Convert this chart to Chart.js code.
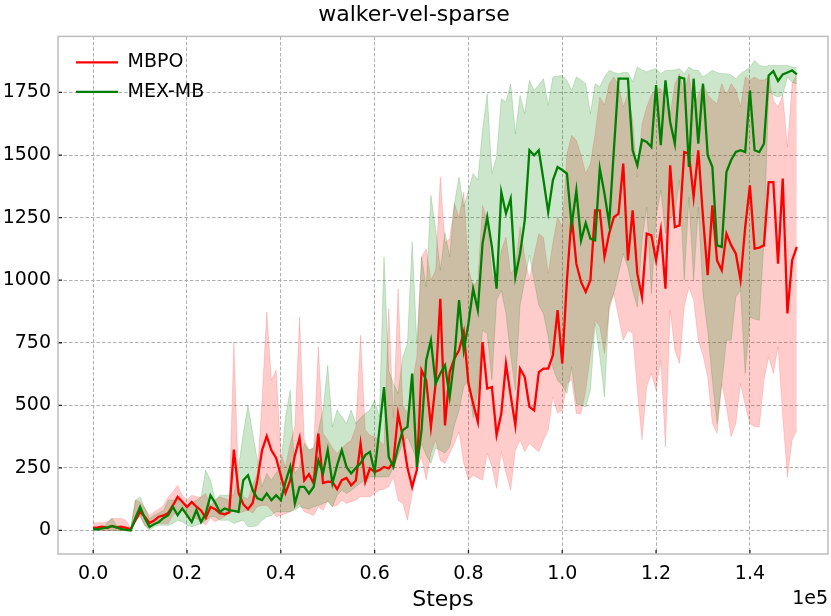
<!DOCTYPE html>
<html>
<head>
<meta charset="utf-8">
<script src="https://cdn.jsdelivr.net/npm/chart.js@4.4.1/dist/chart.umd.min.js"></script>
<style>
  html, body { margin: 0; padding: 0; background: #fff; }
  #wrap { width: 831px; height: 616px; }
</style>
</head>
<body>
<div id="wrap"><canvas id="myChart" width="831" height="616"></canvas></div>
<script>
// x grid: one point every 1000 env steps, 0 .. 150000
const steps = Array.from({length: 151}, (_, i) => i * 1000);

const xTicks = [0, 20000, 40000, 60000, 80000, 100000, 120000, 140000];
const yTicks = [0, 250, 500, 750, 1000, 1250, 1500, 1750];

// MBPO (red)
const mbpoMean = [10,12,15,10,18,12,15,10,5,40,75,55,30,40,55,60,70,100,134,115,
  94,114,95,80,50,94,85,69,65,72,323,150,105,85,110,200,320,377,320,290,
  220,150,200,300,370,200,225,188,387,190,195,194,165,201,210,180,200,347,194,248,
  234,241,254,248,274,467,374,250,174,241,640,600,414,587,926,420,633,687,720,793,
  587,507,434,753,567,573,381,467,667,540,420,647,613,494,480,633,647,647,700,880,
  667,1000,1259,1066,993,953,1000,1279,1279,1093,1186,1252,1266,1466,1079,1279,1026,933,1186,1179,
  1079,1199,966,1459,1212,1219,1512,1506,1332,1519,1252,1020,1299,1079,1040,1186,1140,1106,1000,1212,
  1379,1126,1130,1139,1392,1392,1066,1406,867,1079,1133];
const mbpoHi = [31,31,31,35,48,48,48,40,10,121,114,90,61,74,85,100,134,154,181,140,
  121,141,135,134,148,100,121,135,128,121,754,175,135,125,180,228,521,873,600,641,
  308,255,348,414,853,361,321,330,734,388,361,330,308,330,347,360,414,780,401,380,
  374,360,340,887,450,966,500,467,587,693,1093,1126,1000,1040,1412,1150,1166,1306,1250,1352,
  1050,973,1000,1299,1239,1026,980,1119,1173,1026,1053,1213,1093,1000,1100,1186,1170,1026,1150,1253,
  1213,1505,1579,1559,1500,1426,1465,1585,1732,1700,1785,1812,1780,1692,1745,1639,1412,1625,1692,1740,
  1765,1765,1720,1665,1785,1825,1745,1825,1692,1740,1785,1740,1720,1705,1785,1740,1785,1760,1692,1812,
  1800,1812,1800,1800,1812,1718,1692,1740,1532,1785,1825];
const mbpoLo = [0,0,0,0,0,0,0,0,0,40,55,20,8,28,28,28,28,61,75,81,
  55,50,48,35,21,50,35,45,55,68,81,70,75,81,70,95,100,101,81,55,
  60,68,75,90,108,75,68,60,95,81,121,95,100,121,108,115,121,135,135,135,
  148,161,165,175,214,121,108,41,148,241,294,201,308,361,281,268,308,348,394,268,
  201,221,210,201,308,255,168,315,230,161,321,361,315,348,330,315,361,400,534,468,
  480,587,601,467,467,560,700,840,813,707,880,946,853,760,800,787,560,361,574,627,
  560,680,334,880,720,667,893,973,920,760,700,614,427,387,587,494,374,427,587,500,
  427,414,414,600,694,627,734,454,214,361,401];

// MEX-MB (green)
const mexMean = [5,5,8,12,17,12,5,2,0,50,94,50,14,25,34,50,61,94,61,88,
  61,34,81,34,68,140,110,74,88,81,78,74,201,221,161,128,121,148,121,141,
  121,194,254,108,174,174,148,174,281,228,321,188,260,321,254,228,250,268,301,314,
  234,400,573,294,254,334,401,414,627,254,401,680,760,587,627,660,534,687,920,720,
  827,966,880,1146,1252,1133,966,1352,1266,1326,1013,1106,1239,1519,1499,1519,1400,1272,1399,1452,
  1440,1426,1219,1359,1159,1229,1166,1159,1446,1346,1226,1519,1805,1805,1805,1519,1459,1561,1552,1532,
  1779,1539,1798,1632,1545,1811,1805,1452,1805,1545,1785,1499,1452,1139,1133,1432,1480,1512,1519,1512,
  1758,1519,1512,1545,1818,1835,1796,1822,1830,1838,1822];
const mexHi = [8,8,8,30,48,20,15,15,8,121,134,90,48,61,70,81,121,121,121,110,
  94,110,121,134,241,201,121,141,141,141,141,255,388,501,388,281,175,228,201,230,
  255,454,561,228,255,348,321,330,400,481,660,414,481,454,427,481,427,450,467,481,
  521,454,1093,640,587,547,693,747,1153,747,1093,973,1339,1206,1040,1190,1093,1306,1412,1292,
  1359,1426,1400,1599,1745,1426,1492,1725,1712,1785,1585,1738,1665,1798,1758,1780,1805,1698,1812,1815,
  1818,1798,1758,1812,1800,1785,1665,1785,1772,1812,1838,1830,1825,1830,1830,1792,1852,1840,1832,1840,
  1845,1825,1838,1838,1840,1845,1825,1852,1840,1838,1812,1825,1838,1830,1825,1825,1820,1805,1825,1838,
  1850,1878,1860,1852,1858,1858,1858,1858,1858,1852,1850];
const mexLo = [0,0,0,0,0,0,0,0,0,40,61,20,1,15,21,21,21,28,41,35,
  21,15,21,28,41,55,55,41,41,41,28,35,41,15,15,20,41,55,60,75,
  75,75,75,81,95,90,85,95,100,108,115,95,140,161,148,160,175,190,201,214,
  214,214,214,214,250,300,347,374,330,281,347,300,268,330,321,310,334,420,480,574,
  601,450,560,800,787,601,920,960,867,700,561,900,1000,1100,1000,900,867,774,650,600,
  580,547,654,507,500,494,560,827,694,534,900,950,1026,1106,1050,960,893,1159,1292,946,
  1253,1359,1186,1250,1266,1399,1000,1332,1000,1292,946,800,600,427,587,760,760,933,960,627,
  853,845,840,1159,1758,1740,1732,1740,1812,1790,1785];

const pts = arr => steps.map((s, i) => ({x: s, y: arr[i]}));

const FONT = "'DejaVu Sans', sans-serif";

// legend placement inside the axes, inward tick marks, frame and the 1e5 offset text
const framePlugin = {
  id: 'frame',
  afterLayout(chart) {
    const lg = chart.legend;
    const a = chart.chartArea;
    if (lg) {
      const h = lg.height;
      lg.left = a.left + 7.5;
      lg.top = a.top + 6;
      lg.bottom = lg.top + h;
    }
  },
  afterDraw(chart) {
    const {ctx, chartArea: a, scales} = chart;
    ctx.save();
    ctx.strokeStyle = '#222';
    ctx.lineWidth = 1.3;
    ctx.beginPath();
    xTicks.forEach(v => {
      const px = scales.x.getPixelForValue(v);
      ctx.moveTo(px, a.bottom); ctx.lineTo(px, a.bottom - 4);
    });
    yTicks.forEach(v => {
      const py = scales.y.getPixelForValue(v);
      ctx.moveTo(a.left, py); ctx.lineTo(a.left + 4, py);
    });
    ctx.stroke();
    ctx.strokeStyle = '#bdbdbd';
    ctx.lineWidth = 1.5;
    ctx.strokeRect(a.left, a.top, a.right - a.left, a.bottom - a.top);
    ctx.fillStyle = '#000';
    ctx.font = '19px ' + FONT;
    ctx.textAlign = 'right';
    ctx.textBaseline = 'alphabetic';
    ctx.fillText('1e5', a.right, 604);
    ctx.restore();
  }
};

const bandStyle = (fillCol, lineCol) => ({
  backgroundColor: fillCol, borderColor: lineCol, borderWidth: 1,
  pointRadius: 0, tension: 0
});

const ctx = document.getElementById('myChart');
const myChart = new Chart(ctx, {
  type: 'line',
  data: {
    datasets: [
      {label: 'MEX-MB', data: pts(mexMean), borderColor: 'green', backgroundColor: 'green',
       borderWidth: 2.3, pointRadius: 0, fill: false, tension: 0},
      {label: 'MBPO', data: pts(mbpoMean), borderColor: 'red', backgroundColor: 'red',
       borderWidth: 2.3, pointRadius: 0, fill: false, tension: 0},
      Object.assign({label: 'mexHi', data: pts(mexHi), fill: '+1'},
        bandStyle('rgba(0,128,0,0.2)', 'rgba(0,128,0,0.18)')),
      Object.assign({label: 'mexLo', data: pts(mexLo), fill: false},
        bandStyle('rgba(0,128,0,0.2)', 'rgba(0,128,0,0.18)')),
      Object.assign({label: 'mbpoHi', data: pts(mbpoHi), fill: '+1'},
        bandStyle('rgba(255,0,0,0.2)', 'rgba(255,0,0,0.15)')),
      Object.assign({label: 'mbpoLo', data: pts(mbpoLo), fill: false},
        bandStyle('rgba(255,0,0,0.2)', 'rgba(255,0,0,0.15)'))
    ]
  },
  options: {
    responsive: false,
    animation: false,
    events: [],
    layout: {padding: {left: 0, right: 3, top: 0, bottom: 0}},
    plugins: {
      title: {
        display: true, text: 'walker-vel-sparse', color: '#000',
        font: {family: FONT, size: 22, weight: 'normal'},
        padding: {top: 2, bottom: 8}
      },
      legend: {
        position: 'chartArea', align: 'start',
        labels: {
          filter: item => item.text === 'MBPO' || item.text === 'MEX-MB',
          sort: (a, b) => b.datasetIndex - a.datasetIndex,
          usePointStyle: true, pointStyle: 'line', pointStyleWidth: 42,
          color: '#000', padding: 10.5,
          font: {family: FONT, size: 19}
        }
      },
      tooltip: {enabled: false}
    },
    scales: {
      x: {
        type: 'linear', min: -7500, max: 156650,
        afterBuildTicks: s => { s.ticks = xTicks.map(v => ({value: v})); },
        afterFit: s => { s.height = 62; },
        ticks: {
          color: '#000', padding: 9, maxRotation: 0, autoSkip: false,
          font: {family: FONT, size: 19},
          callback: v => (v / 1e5).toFixed(1)
        },
        grid: {color: '#b0b0b0', lineWidth: 1, drawTicks: false},
        border: {display: false, dash: [3.5, 2]},
        title: {display: true, text: 'Steps', color: '#000',
          font: {family: FONT, size: 22}, padding: {top: 0, bottom: 3}}
      },
      y: {
        type: 'linear', min: -94, max: 1974,
        afterBuildTicks: s => { s.ticks = yTicks.map(v => ({value: v})); },
        afterFit: s => { s.width = 58; },
        ticks: {color: '#000', padding: 7, font: {family: FONT, size: 19},
          callback: v => String(v)},
        grid: {color: '#b0b0b0', lineWidth: 1, drawTicks: false},
        border: {display: false, dash: [3.5, 2]}
      }
    }
  },
  plugins: [framePlugin]
});
</script>
</body>
</html>
